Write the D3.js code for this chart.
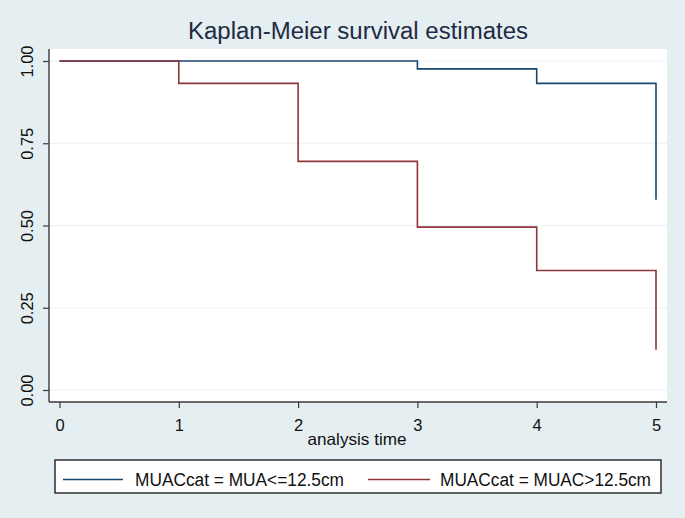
<!DOCTYPE html>
<html>
<head>
<meta charset="utf-8">
<script src="https://cdn.jsdelivr.net/npm/d3@7"></script>
<style>
  html, body { margin: 0; padding: 0; background: #e5eef0; }
  svg { display: block; font-family: "Liberation Sans", Arial, sans-serif; }
</style>
</head>
<body>
<svg id="chart" width="685" height="518"></svg>
<script>
// ---- data ----
const times = [0, 1, 2, 3, 4, 5];
const survLow = [1, 1, 1, 0.976, 0.932, 0.578];     // MUA<=12.5cm
const survHigh = [1, 0.932, 0.695, 0.495, 0.363, 0.122]; // MUAC>12.5cm
const yTicks = [0, 0.25, 0.5, 0.75, 1];
const xTicks = [0, 1, 2, 3, 4, 5];
const seriesNames = ["MUACcat = MUA<=12.5cm", "MUACcat = MUAC>12.5cm"];
const seriesColors = ["#1a476f", "#90353b"];
const titleText = "Kaplan-Meier survival estimates";
const xTitle = "analysis time";

const svg = d3.select("#chart");
const W = 685, H = 518;
svg.append("rect").attr("width", W).attr("height", H).attr("fill", "#e5eef0");

// plot region
const region = { left: 49, right: 667, top: 49, bottom: 402 };
svg.append("rect")
  .attr("x", region.left).attr("y", region.top)
  .attr("width", region.right - region.left).attr("height", region.bottom - region.top)
  .attr("fill", "#ffffff");

const x = d3.scaleLinear().domain([0, 5]).range([59.5, 656]);
const y = d3.scaleLinear().domain([0, 1]).range([390, 61]);

// gridlines
svg.append("g").selectAll("line").data(yTicks).join("line")
  .attr("x1", region.left).attr("x2", region.right)
  .attr("y1", d => y(d)).attr("y2", d => y(d))
  .attr("stroke", "#eaf1f2").attr("stroke-width", 1.2);

// step lines
const line = d3.line().x(d => x(d[0])).y(d => y(d[1])).curve(d3.curveStepAfter);
[survLow, survHigh].forEach((s, i) => {
  svg.append("path")
    .datum(times.map((t, j) => [t, s[j]]))
    .attr("d", line)
    .attr("fill", "none")
    .attr("stroke", seriesColors[i])
    .attr("stroke-width", 1.6);
});

// y axis
const yAxis = svg.append("g")
  .attr("transform", `translate(${region.left},0)`)
  .call(d3.axisLeft(y).tickValues(yTicks).tickFormat(d3.format(".2f")).tickSize(6).tickSizeOuter(0));
yAxis.select(".domain").attr("d", `M0,${region.top}V${region.bottom}`).attr("stroke", "#3a3a3a").attr("stroke-width", 1.4);
yAxis.selectAll(".tick line").attr("stroke", "#3a3a3a").attr("stroke-width", 1.2);
yAxis.selectAll(".tick text")
  .attr("transform", "rotate(-90)")
  .attr("x", 0).attr("y", -16).attr("dy", 0)
  .attr("text-anchor", "middle")
  .attr("font-size", 16.5)
  .attr("font-family", "Liberation Sans, Arial, sans-serif")
  .attr("fill", "#111");

// x axis
const xAxis = svg.append("g")
  .attr("transform", `translate(0,${region.bottom})`)
  .call(d3.axisBottom(x).tickValues(xTicks).tickFormat(d3.format("d")).tickSize(6).tickPadding(11).tickSizeOuter(0));
xAxis.select(".domain").attr("d", `M${region.left},0H${region.right}`).attr("stroke", "#3a3a3a").attr("stroke-width", 1.4);
xAxis.selectAll(".tick line").attr("stroke", "#3a3a3a").attr("stroke-width", 1.2);
xAxis.selectAll(".tick text")
  .attr("font-size", 16.5)
  .attr("font-family", "Liberation Sans, Arial, sans-serif")
  .attr("fill", "#111");

// axis title
svg.append("text")
  .attr("x", 357).attr("y", 445)
  .attr("text-anchor", "middle")
  .attr("font-size", 16.5)
  .attr("textLength", 99).attr("lengthAdjust", "spacingAndGlyphs")
  .attr("fill", "#111")
  .text(xTitle);

// title
svg.append("text")
  .attr("x", 358).attr("y", 39)
  .attr("text-anchor", "middle")
  .attr("font-size", 23)
  .attr("textLength", 340).attr("lengthAdjust", "spacingAndGlyphs")
  .attr("fill", "#1e2a44")
  .text(titleText);

// legend
svg.append("rect")
  .attr("x", 55).attr("y", 460).attr("width", 606).attr("height", 33)
  .attr("fill", "#ffffff").attr("stroke", "#222").attr("stroke-width", 1.4);
const legItems = [
  { x1: 63, x2: 123, tx: 135, tw: 209 },
  { x1: 368, x2: 430, tx: 440, tw: 211 }
];
legItems.forEach((it, i) => {
  svg.append("line")
    .attr("x1", it.x1).attr("x2", it.x2).attr("y1", 479.5).attr("y2", 479.5)
    .attr("stroke", seriesColors[i]).attr("stroke-width", 1.6);
  svg.append("text")
    .attr("x", it.tx).attr("y", 485.5)
    .attr("font-size", 18)
    .attr("textLength", it.tw).attr("lengthAdjust", "spacingAndGlyphs")
    .attr("fill", "#111")
    .text(seriesNames[i]);
});
</script>
</body>
</html>
